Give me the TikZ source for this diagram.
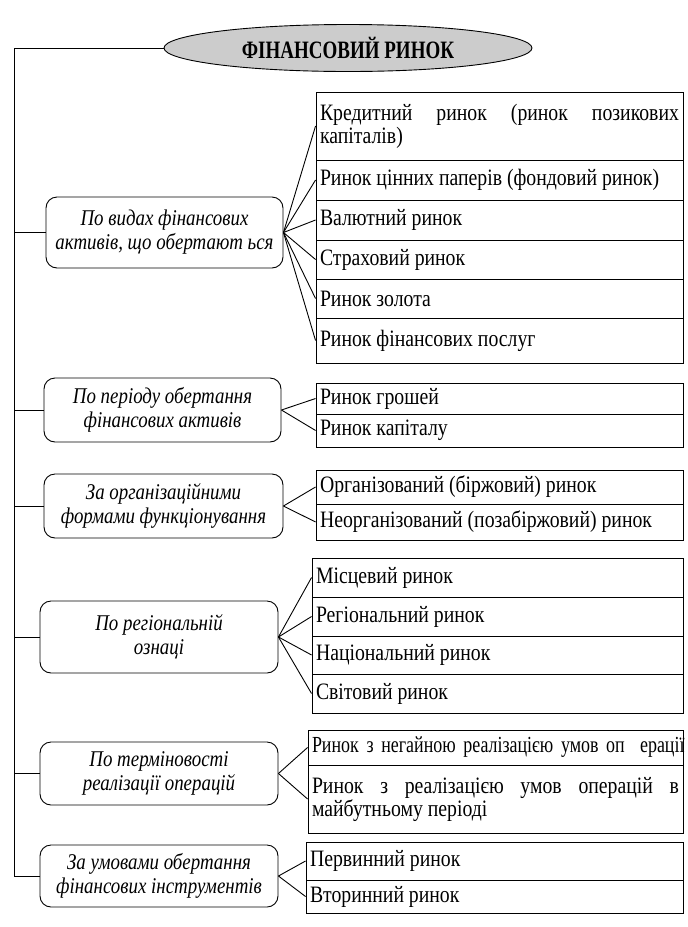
\documentclass[tikz,border=0pt]{standalone}
\usepackage{fontspec}
\setmainfont[FakeStretch=0.84]{Liberation Serif}
\newfontfamily\titlefont[FakeStretch=0.76]{Liberation Serif}
\newfontfamily\narrowfont[FakeStretch=0.78]{Liberation Serif}
\usetikzlibrary{shapes.geometric}
\tikzset{
  line/.style={draw=black, line width=0.9pt},
  rowbox/.style={draw=black, line width=0.9pt, rectangle, inner xsep=4pt, inner ysep=2pt,
    align=justify, font=\fontsize{23.5}{23}\selectfont},
  catbox/.style={draw=black, line width=0.9pt, rectangle, rounded corners=11pt,
    align=center, font=\fontsize{22.5}{24}\selectfont\itshape},
  titlebox/.style={draw=black, line width=0.9pt, ellipse, fill=gray!40,
    font=\titlefont\fontsize{25}{26}\selectfont\bfseries},
}
\begin{document}
\begin{tikzpicture}[x=1pt,y=-1pt]
\useasboundingbox (0,0) rectangle (688,927);
\fill[white] (0,0) rectangle (688,927);

% title
\node[titlebox, minimum width=368pt, minimum height=47pt] (title) at (348,48) {ФІНАНСОВИЙ РИНОК};

% category boxes
\node[catbox, minimum width=237pt, minimum height=71pt] (c1) at (164.5,232.5) {По видах фінансових\\активів, що обертают ься};
\node[catbox, minimum width=237pt, minimum height=64pt] (c2) at (162.5,410) {По періоду обертання\\фінансових активів};
\node[catbox, minimum width=239pt, minimum height=64pt] (c3) at (163.5,506) {За організаційними\\формами функціонування};
\node[catbox, minimum width=238pt, minimum height=72pt] (c4) at (159,637) {По регіональній\\ознаці};
\node[catbox, minimum width=238pt, minimum height=63pt] (c5) at (159,773.5) {По терміновості\\реалізації операцій};
\node[catbox, minimum width=238pt, minimum height=62pt] (c6) at (159,876) {За умовами обертання\\фінансових інструментів};

% group 1 rows
\node[rowbox, minimum width=367pt, text width=359pt, minimum height=68pt] (r11) at (499.5,126) {Кредитний ринок (ринок позикових капіталів)};
\node[rowbox, minimum width=367pt, text width=359pt, minimum height=40pt] (r12) at (499.5,180) {Ринок цінних паперів (фондовий ринок)};
\node[rowbox, minimum width=367pt, text width=359pt, minimum height=40pt] (r13) at (499.5,220) {Валютний ринок};
\node[rowbox, minimum width=367pt, text width=359pt, minimum height=39pt] (r14) at (499.5,259.5) {Страховий ринок};
\node[rowbox, minimum width=367pt, text width=359pt, minimum height=39pt] (r15) at (499.5,298.5) {Ринок золота};
\node[rowbox, minimum width=367pt, text width=359pt, minimum height=45pt] (r16) at (499.5,340.5) {Ринок фінансових послуг};

% group 2 rows
\node[rowbox, minimum width=367pt, text width=359pt, minimum height=31pt] (r21) at (499.5,398.5) {Ринок грошей};
\node[rowbox, minimum width=367pt, text width=359pt, minimum height=33pt] (r22) at (499.5,430.5) {Ринок капіталу};

% group 3 rows
\node[rowbox, minimum width=367pt, text width=359pt, minimum height=34pt] (r31) at (499.5,487) {Організований (біржовий) ринок};
\node[rowbox, minimum width=367pt, text width=359pt, minimum height=36pt] (r32) at (499.5,522) {Неорганізований (позабіржовий) ринок};

% group 4 rows
\node[rowbox, minimum width=371pt, text width=363pt, minimum height=39pt] (r41) at (497.5,577.5) {Місцевий ринок};
\node[rowbox, minimum width=371pt, text width=363pt, minimum height=39pt] (r42) at (497.5,616.5) {Регіональний ринок};
\node[rowbox, minimum width=371pt, text width=363pt, minimum height=38pt] (r43) at (497.5,655) {Національний ринок};
\node[rowbox, minimum width=371pt, text width=363pt, minimum height=39pt] (r44) at (497.5,693.5) {Світовий ринок};

% group 5 rows
\node[rowbox, minimum width=375pt, text width=367pt, minimum height=35pt, align=left, font=\narrowfont\fontsize{23}{23}\selectfont] (r51) at (495.5,747.5) {\mbox{Ринок з негайною реалізацією умов оп\ \ ерації}};
\node[rowbox, minimum width=375pt, text width=367pt, minimum height=68pt] (r52) at (495.5,799) {Ринок з реалізацією умов операцій в майбутньому періоді};

% group 6 rows
\node[rowbox, minimum width=377pt, text width=369pt, minimum height=38pt] (r61) at (494.5,861) {Первинний ринок};
\node[rowbox, minimum width=377pt, text width=369pt, minimum height=33pt] (r62) at (494.5,896.5) {Вторинний ринок};

% spine
\coordinate (st) at (14,48);
\coordinate (sb) at (14,876);
\draw[line] (title.west) -- (st) -- (sb);
\foreach \c in {c1,c2,c3,c4,c5,c6} {
  \draw[line] (\c.west) -- (\c.west -| st);
}

% fans
\foreach \r in {r11,r12,r13,r14,r15,r16} { \draw[line] (c1.east) -- (\r.west); }
\foreach \r in {r21,r22} { \draw[line] (c2.east) -- (\r.west); }
\foreach \r in {r31,r32} { \draw[line] (c3.east) -- (\r.west); }
\foreach \r in {r41,r42,r43,r44} { \draw[line] (c4.east) -- (\r.west); }
\foreach \r in {r51,r52} { \draw[line] (c5.east) -- (\r.west); }
\foreach \r in {r61,r62} { \draw[line] (c6.east) -- (\r.west); }
\end{tikzpicture}
\end{document}
